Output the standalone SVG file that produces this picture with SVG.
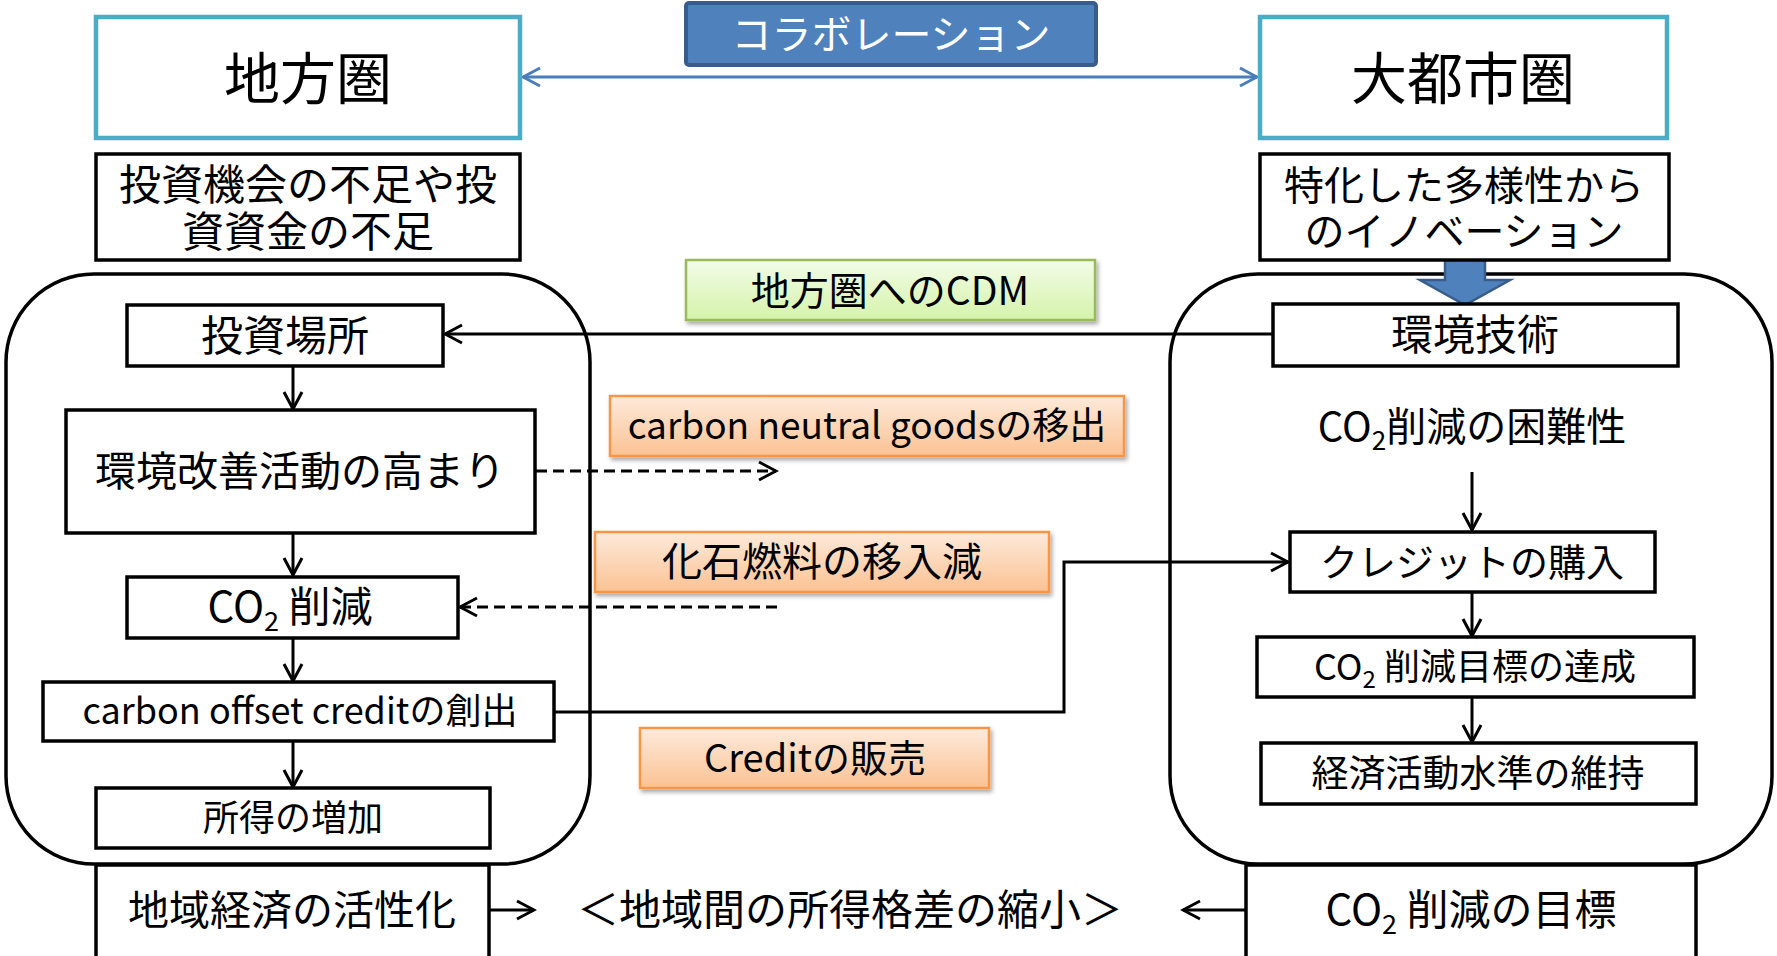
<svg xmlns="http://www.w3.org/2000/svg" width="1777" height="956" viewBox="0 0 1777 956">
<defs>
<style>
text{font-family:'Noto Sans CJK JP','Noto Sans CJK SC',sans-serif;fill:#000;text-anchor:middle}
.box{fill:#fff;stroke:#000;stroke-width:3.5}
.teal{fill:#fff;stroke:#4BACC6;stroke-width:4.5}
.round{fill:none;stroke:#000;stroke-width:3.5}
.orange{fill:url(#gOr);stroke:#F79646;stroke-width:2.5;filter:url(#sh)}
.green{fill:url(#gGr);stroke:#9BBB59;stroke-width:2.5;filter:url(#sh)}
.con{fill:none;stroke:#000;stroke-width:3;marker-end:url(#ah)}
.dash{stroke-dasharray:11 6}
</style>
<linearGradient id="gOr" x1="0" y1="0" x2="0" y2="1">
<stop offset="0" stop-color="#FDEADB"/><stop offset="1" stop-color="#FBC293"/>
</linearGradient>
<linearGradient id="gGr" x1="0" y1="0" x2="0" y2="1">
<stop offset="0" stop-color="#F3FCE8"/><stop offset="1" stop-color="#D5F3AA"/>
</linearGradient>
<filter id="sh" x="-5%" y="-20%" width="112%" height="150%">
<feDropShadow dx="2" dy="3" stdDeviation="2" flood-color="#000" flood-opacity="0.35"/>
</filter>
<marker id="ah" markerUnits="userSpaceOnUse" markerWidth="22" markerHeight="22" viewBox="0 0 22 22" refX="19" refY="11" orient="auto-start-reverse">
<path d="M2,2 L19,11 L2,20" fill="none" stroke="#000" stroke-width="3"/>
</marker>
<marker id="ahb" markerUnits="userSpaceOnUse" markerWidth="22" markerHeight="22" viewBox="0 0 22 22" refX="19" refY="11" orient="auto-start-reverse">
<path d="M2,2 L19,11 L2,20" fill="none" stroke="#4A7EBB" stroke-width="3"/>
</marker>
</defs>

<g id="regions">
<rect id="local-region" class="round" x="6" y="274" width="584" height="590" rx="88" ry="88"/>
<rect id="metro-region" class="round" x="1170" y="274" width="602" height="590" rx="88" ry="88"/>
</g>

<g id="connectors">
<line x1="523" y1="77" x2="1257" y2="77" stroke="#4A7EBB" stroke-width="3" marker-start="url(#ahb)" marker-end="url(#ahb)"/>
<line class="con" x1="1272" y1="334" x2="445" y2="334"/>
<line class="con" x1="293" y1="366" x2="293" y2="409"/>
<line class="con" x1="293" y1="533" x2="293" y2="575"/>
<line class="con" x1="293" y1="638" x2="293" y2="681"/>
<line class="con" x1="293" y1="741" x2="293" y2="787"/>
<line class="con dash" x1="536" y1="471" x2="776" y2="471"/>
<line class="con dash" x1="777" y1="607" x2="460" y2="607"/>
<polyline class="con" points="554,712 1064,712 1064,562 1288,562"/>
<line class="con" x1="1472" y1="472" x2="1472" y2="530"/>
<line class="con" x1="1472" y1="593" x2="1472" y2="636"/>
<line class="con" x1="1472" y1="697" x2="1472" y2="742"/>
<line class="con" x1="490" y1="910" x2="534" y2="910"/>
<line class="con" x1="1246" y1="910" x2="1183" y2="910"/>
</g>

<g id="block-arrow">
<polygon points="1445,258 1485,258 1485,280 1510,280 1465,305 1420,280 1445,280" fill="#4F81BD" stroke="#385D8A" stroke-width="2.5" stroke-linejoin="miter"/>
</g>

<g id="n-local">
<rect class="teal" x="96" y="17" width="424" height="121"/>
<text x="308" y="99" font-size="56">地方圏</text>
</g>
<g id="n-collab">
<rect x="686" y="3" width="410" height="62" rx="3" fill="#4F81BD" stroke="#385D8A" stroke-width="4"/>
<text x="891" y="49" font-size="40" style="fill:#fff">コラボレーション</text>
</g>
<g id="n-metro">
<rect class="teal" x="1260" y="17" width="407" height="121"/>
<text x="1463" y="99" font-size="56">大都市圏</text>
</g>
<g id="n-lack">
<rect class="box" x="96" y="154" width="424" height="106"/>
<text x="308" y="200" font-size="42">投資機会の不足や投<tspan x="308" y="247">資資金の不足</tspan></text>
</g>
<g id="n-innov">
<rect class="box" x="1260" y="154" width="409" height="106"/>
<text x="1464" y="200" font-size="40">特化した多様性から<tspan x="1464" y="246">のイノベーション</tspan></text>
</g>
<g id="n-cdm">
<rect class="green" x="686" y="260" width="409" height="60"/>
<text x="890" y="305" font-size="39">地方圏へのCDM</text>
</g>
<g id="n-invest-place">
<rect class="box" x="127" y="305" width="316" height="61"/>
<text x="285" y="351" font-size="42">投資場所</text>
</g>
<g id="n-env-tech">
<rect class="box" x="1273" y="304" width="405" height="62"/>
<text x="1475" y="350" font-size="42">環境技術</text>
</g>
<g id="n-env-act">
<rect class="box" x="66" y="410" width="469" height="123"/>
<text x="300" y="486" font-size="41">環境改善活動の高まり</text>
</g>
<g id="n-goods">
<rect class="orange" x="610" y="396" width="514" height="60"/>
<text x="867" y="439" font-size="37">carbon neutral goodsの移出</text>
</g>
<g id="n-difficulty">
<text x="1472" y="441" font-size="40">CO<tspan font-size="26" dy="9">2</tspan><tspan dy="-9">削減の困難性</tspan></text>
</g>
<g id="n-fossil">
<rect class="orange" x="595" y="532" width="454" height="60"/>
<text x="822" y="576" font-size="40">化石燃料の移入減</text>
</g>
<g id="n-buy">
<rect class="box" x="1290" y="532" width="365" height="60"/>
<text x="1472" y="576" font-size="38">クレジットの購入</text>
</g>
<g id="n-co2cut">
<rect class="box" x="127" y="577" width="331" height="61"/>
<text x="290" y="622" font-size="42">CO<tspan font-size="27" dy="9">2</tspan><tspan dy="-9"> 削減</tspan></text>
</g>
<g id="n-achieve">
<rect class="box" x="1257" y="637" width="437" height="60"/>
<text x="1475" y="680" font-size="36">CO<tspan font-size="24" dy="8">2</tspan><tspan dy="-8"> 削減目標の達成</tspan></text>
</g>
<g id="n-offset">
<rect class="box" x="43" y="682" width="511" height="59"/>
<text x="300" y="724" font-size="36">carbon offset creditの創出</text>
</g>
<g id="n-sale">
<rect class="orange" x="640" y="728" width="349" height="60"/>
<text x="815" y="772" font-size="38">Creditの販売</text>
</g>
<g id="n-maintain">
<rect class="box" x="1261" y="743" width="435" height="61"/>
<text x="1478" y="787" font-size="37">経済活動水準の維持</text>
</g>
<g id="n-income">
<rect class="box" x="96" y="788" width="394" height="60"/>
<text x="293" y="831" font-size="36">所得の増加</text>
</g>
<g id="n-revital">
<rect class="box" x="96" y="865" width="393" height="95"/>
<text x="292" y="925" font-size="41">地域経済の活性化</text>
</g>
<g id="n-gap">
<text x="850" y="925" font-size="42">＜地域間の所得格差の縮小＞</text>
</g>
<g id="n-target">
<rect class="box" x="1246" y="865" width="450" height="95"/>
<text x="1471" y="925" font-size="42">CO<tspan font-size="27" dy="9">2</tspan><tspan dy="-9"> 削減の目標</tspan></text>
</g>
</svg>
